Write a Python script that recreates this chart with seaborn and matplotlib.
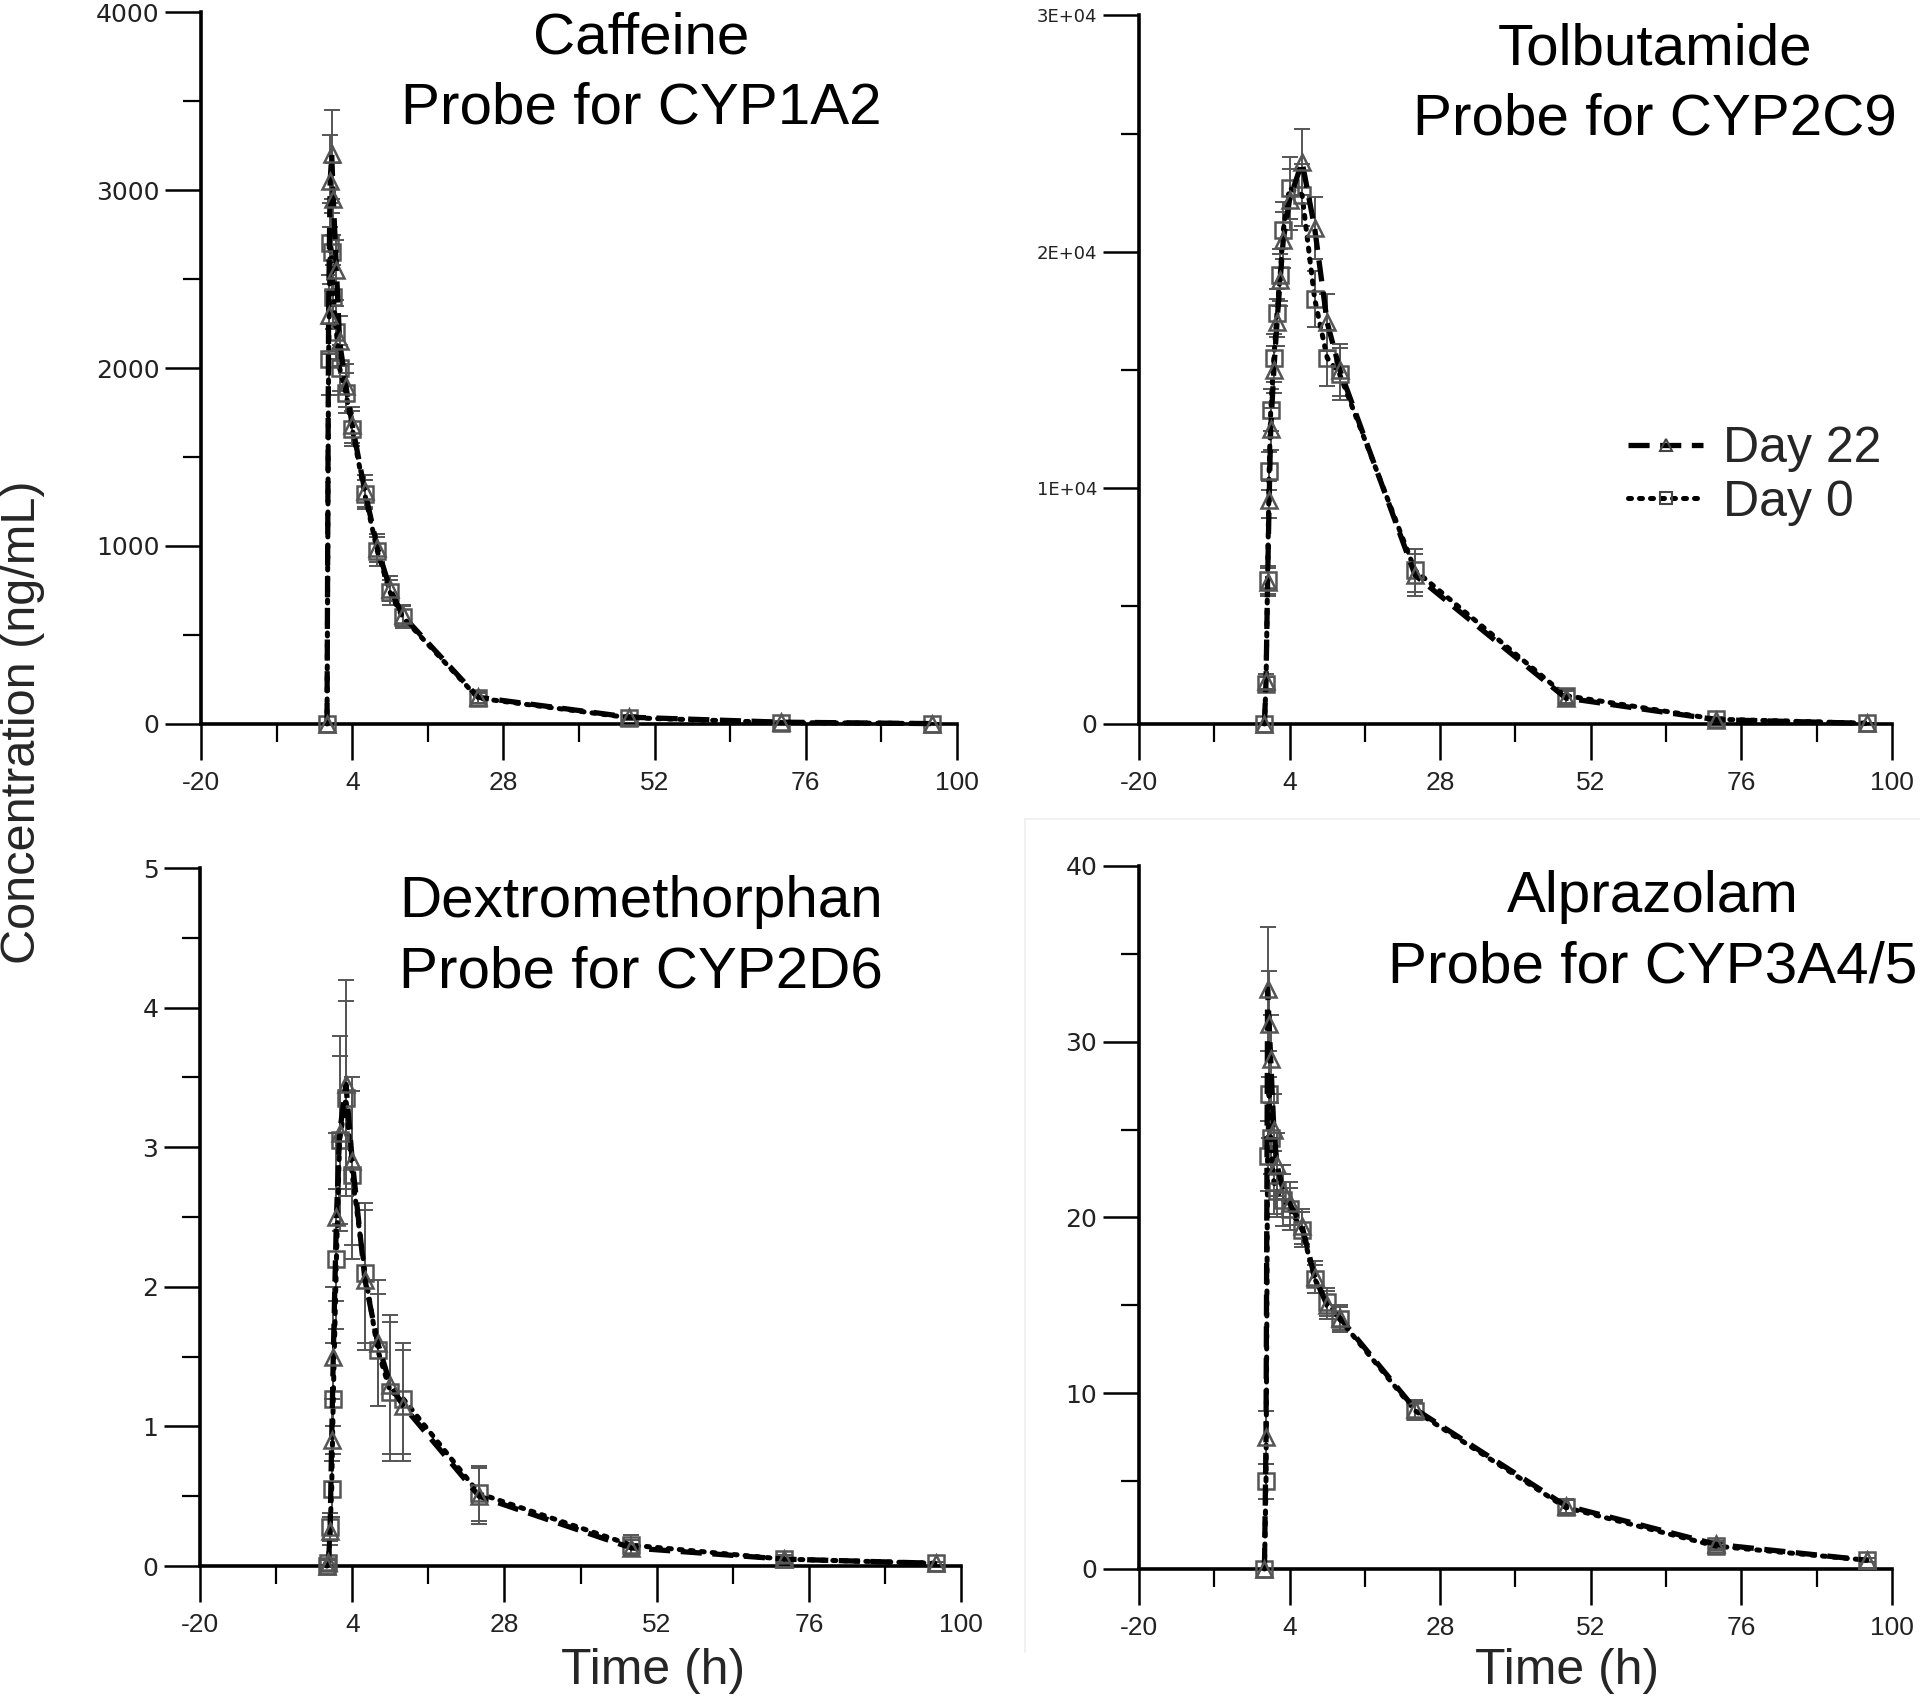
import pandas as pd
import seaborn as sns
import matplotlib.pyplot as plt
from matplotlib.lines import Line2D
from matplotlib.ticker import FixedLocator, MultipleLocator

# Sampling times (h)
times = [0, 0.25, 0.5, 0.75, 1, 1.5, 2, 3, 4, 6, 8, 10, 12, 24, 48, 72, 96]
times_tolb = [0, 0.25, 0.5, 0.75, 1, 1.5, 2, 2.5, 3, 4, 6, 8, 10, 12, 24, 48, 72, 96]

# Caffeine (CYP1A2)
caf_day0 = [0, 2050, 2700, 2650, 2400, 2200, 2000, 1860, 1660, 1290, 970, 740, 600, 145, 35, 8, 2]
caf_day0_err = [0, 200, 230, 220, 180, 150, 130, 110, 100, 80, 80, 70, 60, 30, 15, 5, 2]
caf_day22 = [0, 2300, 3050, 3200, 2950, 2550, 2150, 1900, 1680, 1310, 990, 760, 610, 150, 38, 10, 2]
caf_day22_err = [0, 220, 260, 250, 200, 170, 140, 120, 100, 90, 80, 70, 60, 30, 15, 5, 2]

# Tolbutamide (CYP2C9)
tol_day0 = [0, 1700, 6100, 10700, 13300, 15500, 17400, 19000, 20900, 22700, 22400, 18000, 15500, 14800, 6500, 1200, 200, 30]
tol_day0_err = [0, 300, 600, 800, 900, 1000, 1000, 1100, 1200, 1300, 1300, 1200, 1200, 1100, 900, 300, 80, 20]
tol_day22 = [0, 1800, 6000, 9500, 12500, 15000, 17000, 18800, 20500, 22200, 23800, 21000, 17000, 15000, 6300, 1100, 180, 25]
tol_day22_err = [0, 300, 600, 800, 900, 1000, 1000, 1100, 1200, 1300, 1400, 1300, 1200, 1100, 900, 300, 80, 20]

# Dextromethorphan (CYP2D6)
dex_day0 = [0, 0.02, 0.28, 0.55, 1.2, 2.2, 3.05, 3.35, 2.8, 2.1, 1.55, 1.25, 1.2, 0.52, 0.15, 0.05, 0.02]
dex_day0_err = [0, 0.02, 0.1, 0.2, 0.4, 0.5, 0.6, 0.7, 0.6, 0.5, 0.4, 0.5, 0.4, 0.2, 0.07, 0.03, 0.01]
dex_day22 = [0, 0.03, 0.25, 0.9, 1.5, 2.5, 3.1, 3.45, 2.9, 2.05, 1.6, 1.3, 1.15, 0.5, 0.13, 0.05, 0.02]
dex_day22_err = [0, 0.02, 0.1, 0.3, 0.5, 0.6, 0.7, 0.75, 0.6, 0.5, 0.45, 0.5, 0.4, 0.2, 0.06, 0.03, 0.01]

# Alprazolam (CYP3A4/5)
alp_day0 = [0, 5, 23.5, 27, 24.5, 22, 21.5, 21, 20.5, 19.3, 16.5, 15.2, 14.2, 9, 3.5, 1.3, 0.5]
alp_day0_err = [0, 1, 2, 2.5, 2, 1.8, 1.5, 1.5, 1.2, 1, 0.8, 0.8, 0.7, 0.5, 0.4, 0.2, 0.1]
alp_day22 = [0, 7.5, 33, 31, 29, 25, 23, 21.5, 20.8, 19.5, 16.6, 15, 14.3, 9.1, 3.6, 1.4, 0.5]
alp_day22_err = [0, 1.5, 3.5, 3, 2.5, 2, 1.8, 1.5, 1.2, 1, 0.9, 0.8, 0.7, 0.5, 0.4, 0.2, 0.1]

titles = ["Caffeine\nProbe for CYP1A2", "Tolbutamide\nProbe for CYP2C9",
          "Dextromethorphan\nProbe for CYP2D6", "Alprazolam\nProbe for CYP3A4/5"]
x_ticks = [-20, 4, 28, 52, 76, 100]
x_minor = [-8, 16, 40, 64, 88]
tolb_ytick_labels = ["0", "1E+04", "2E+04", "3E+04"]

sns.set_theme(style="white")
plt.rcParams["font.family"] = ["Liberation Sans", "DejaVu Sans"]

fig = plt.figure(figsize=(19.2, 17.03), dpi=100)

panels = [
    # axes rect, times, day0, err0, day22, err22, ymax, major, minor, title pos
    ([0.1047, 0.5749, 0.3937, 0.418], times, caf_day0, caf_day0_err, caf_day22, caf_day22_err,
     4000, 1000, 500, (0.334, 0.993)),
    ([0.5932, 0.5749, 0.3922, 0.416], times_tolb, tol_day0, tol_day0_err, tol_day22, tol_day22_err,
     30000, 10000, 5000, (0.862, 0.987)),
    ([0.1042, 0.0804, 0.3964, 0.4099], times, dex_day0, dex_day0_err, dex_day22, dex_day22_err,
     5, 1, 0.5, (0.334, 0.486)),
    ([0.5932, 0.0787, 0.3922, 0.4128], times, alp_day0, alp_day0_err, alp_day22, alp_day22_err,
     40, 10, 5, (0.861, 0.489)),
]

dash22 = (0, (4, 2))
dot0 = (0, (0.6, 1.6))

for i, (rect, t, d0, e0, d22, e22, ymax, major, minor, tpos) in enumerate(panels):
    ax = fig.add_axes(rect)
    ax.set_facecolor("none")

    df0 = pd.DataFrame({"time": t, "conc": d0})
    df22 = pd.DataFrame({"time": t, "conc": d22})

    ax.errorbar(t, d0, yerr=e0, fmt="none", ecolor="#555555", elinewidth=1.4,
                capsize=6, capthick=1.4, clip_on=False, zorder=2)
    ax.errorbar(t, d22, yerr=e22, fmt="none", ecolor="#555555", elinewidth=1.4,
                capsize=6, capthick=1.4, clip_on=False, zorder=2)

    sns.lineplot(data=df0, x="time", y="conc", ax=ax, errorbar=None, sort=False,
                 color="black", linestyle=dot0, linewidth=3.6, dash_capstyle="round",
                 marker="s", markersize=12, markerfacecolor="none",
                 markeredgecolor="#555555", markeredgewidth=1.8, clip_on=False, zorder=3)
    sns.lineplot(data=df22, x="time", y="conc", ax=ax, errorbar=None, sort=False,
                 color="black", linestyle=dash22, linewidth=3.8,
                 marker="^", markersize=12, markerfacecolor="none",
                 markeredgecolor="#555555", markeredgewidth=1.8, clip_on=False, zorder=4)

    ax.set_xlim(-20, 100)
    ax.set_ylim(0, ymax)
    ax.set_xlabel("")
    ax.set_ylabel("")
    for s in ["top", "right"]:
        ax.spines[s].set_visible(False)
    for s in ["left", "bottom"]:
        ax.spines[s].set_linewidth(2.6)
        ax.spines[s].set_color("black")

    ax.xaxis.set_major_locator(FixedLocator(x_ticks))
    ax.xaxis.set_minor_locator(FixedLocator(x_minor))
    ax.yaxis.set_major_locator(MultipleLocator(major))
    ax.yaxis.set_minor_locator(MultipleLocator(minor))
    ax.tick_params(axis="x", which="major", direction="out", length=26, width=1.8,
                   color="black", pad=8, labelsize=19, labelcolor="#222222", bottom=True)
    ax.tick_params(axis="x", which="minor", direction="out", length=13, width=1.6,
                   color="black", bottom=True)
    ax.tick_params(axis="y", which="major", direction="out", length=26, width=1.8,
                   color="black", pad=4, labelsize=18, labelcolor="#222222", left=True)
    ax.tick_params(axis="y", which="minor", direction="out", length=13, width=1.6,
                   color="black", left=True)
    ax.set_xticklabels([str(v) for v in x_ticks])
    for lab in ax.get_yticklabels():
        lab.set_family(["DejaVu Sans"])

    if i == 1:
        ax.set_yticks([0, 10000, 20000, 30000])
        ax.set_yticklabels(tolb_ytick_labels)
        for lab in ax.get_yticklabels():
            lab.set_family(["DejaVu Sans"])
            if lab.get_text() != "0":
                lab.set_fontsize(13)
        handles = [
            Line2D([], [], color="black", linestyle=dash22, linewidth=3.8, marker="^",
                   markersize=9, markerfacecolor="none", markeredgecolor="#444444",
                   markeredgewidth=1.5),
            Line2D([], [], color="black", linestyle=dot0, linewidth=3.6,
                   dash_capstyle="round", marker="s", markersize=9,
                   markerfacecolor="none", markeredgecolor="#444444", markeredgewidth=1.5),
        ]
        fig.legend(handles, ["Day 22", "Day 0"], loc="center left",
                   bbox_to_anchor=(0.848, 0.7205), bbox_transform=fig.transFigure,
                   frameon=False, fontsize=36, handlelength=1.5, handletextpad=0.4,
                   labelspacing=0.15, borderpad=0, borderaxespad=0)

    fig.text(tpos[0], tpos[1], titles[i], ha="center", va="top", fontsize=42,
             linespacing=1.38, color="black")

fig.text(0.0115, 0.576, "Concentration (ng/mL)", rotation=90, ha="center", va="center",
         fontsize=35)
fig.text(0.340, 0.0188, "Time (h)", ha="center", va="center", fontsize=36)
fig.text(0.816, 0.0188, "Time (h)", ha="center", va="center", fontsize=36)

# faint frame around the lower right panel
fig.add_artist(Line2D([0.534, 0.534], [0.03, 0.519], transform=fig.transFigure,
                      color="#eeeeee", linewidth=1.2))
fig.add_artist(Line2D([0.534, 1.0], [0.519, 0.519], transform=fig.transFigure,
                      color="#eeeeee", linewidth=1.2))

fig.savefig("out.png", dpi=100)
